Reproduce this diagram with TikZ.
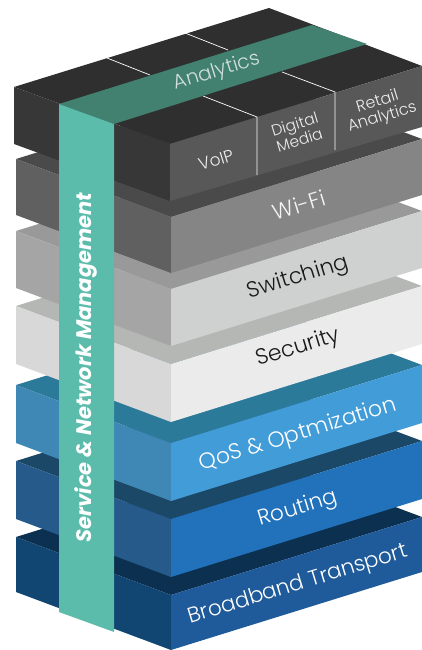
\documentclass[tikz,border=0pt]{standalone}
\usepackage{fontspec}
\setmainfont{Poppins}
\newfontfamily\lightface{Poppins Light}
\definecolor{topT}{HTML}{2E2F2E}\definecolor{topL}{HTML}{363736}\definecolor{topR}{HTML}{575857}
\definecolor{wifiT}{HTML}{4A4A4A}\definecolor{wifiL}{HTML}{5F605F}\definecolor{wifiR}{HTML}{858585}
\definecolor{swT}{HTML}{999999}\definecolor{swL}{HTML}{A5A5A5}\definecolor{swR}{HTML}{CFD1D0}
\definecolor{secT}{HTML}{B5B7B5}\definecolor{secL}{HTML}{D8D8D8}\definecolor{secR}{HTML}{EBEBEB}
\definecolor{qosT}{HTML}{2C7A9A}\definecolor{qosL}{HTML}{3F88B5}\definecolor{qosR}{HTML}{429CD8}
\definecolor{rtT}{HTML}{1C4868}\definecolor{rtL}{HTML}{265A8A}\definecolor{rtR}{HTML}{2272BB}
\definecolor{bbT}{HTML}{0C3050}\definecolor{bbL}{HTML}{124672}\definecolor{bbR}{HTML}{1F5A9A}
\definecolor{bandV}{HTML}{5BBCAB}\definecolor{bandT}{HTML}{42806F}
\tikzset{
  facelabel/.style={rotate=17,inner sep=0pt,align=center,font=\lightface\fontsize{#1}{#1}\selectfont},
  divider/.style={draw=white,line width=0.7pt}
}
% \layerblock{prefix}{front top y}{height}
\newcommand{\layerblock}[3]{%
  \fill[#1T] (171,#2) -- (16,{#2-58}) -- (267,{#2-136}) -- (422,{#2-78}) -- cycle;
  \fill[#1L] (171,#2) -- (16,{#2-58}) -- (16,{#2-58+#3}) -- (171,{#2+#3}) -- cycle;
  \fill[#1R] (171,#2) -- (422,{#2-78}) -- (422,{#2-78+#3}) -- (171,{#2+#3}) -- cycle;
}
\begin{document}
\begin{tikzpicture}[x=1pt,y=-1pt]
\useasboundingbox (0,0) rectangle (422,650);
\layerblock{bb}{595}{55}
\layerblock{rt}{519}{58}
\layerblock{qos}{443}{58}
\layerblock{sec}{364}{58}
\layerblock{sw}{289}{57}
\layerblock{wifi}{217}{56}
% top block
\fill[topT] (170,144) -- (14,87) -- (269,8) -- (422,66) -- cycle;
\fill[topL] (170,144) -- (14,87) -- (14,144) -- (170,201) -- cycle;
\fill[topR] (170,144) -- (422,66) -- (422,127) -- (170,201) -- cycle;
% dividers
\draw[divider] (107,58) -- (150,75);
\draw[divider] (185,33) -- (228,50);
\draw[divider] (203,96) -- (257,117) -- (257,175);
\draw[divider] (282,72) -- (335,92) -- (335,150);
% band
\fill[bandT] (59,104) -- (114,124) -- (367,44) -- (312,25) -- cycle;
\fill[bandV] (59,104) -- (114,124) -- (114,632) -- (59,612) -- cycle;
% labels
\node[facelabel=20,text=white!75!bandT] (analytics) at (217,72) {Analytics};
\node[facelabel=17,text=white!90!topR] (voip) at (216,160) {VoIP};
\node[facelabel=15.5,text=white!90!topR] (digital) at (297,132) {Digital\\Media};
\node[facelabel=16,text=white!90!topR] (retail) at (380,110) {Retail\\Analytics};
\node[facelabel=22,text=white!90!wifiR] (wifi) at (299,205) {Wi-Fi};
\node[facelabel=22,text=black!90] (switching) at (298,278) {Switching};
\node[facelabel=22,text=black!90] (security) at (298,348) {Security};
\node[facelabel=22,text=white] (qos) at (298,435) {QoS \& Optmization};
\node[facelabel=21.5,text=white] (routing) at (298,509) {Routing};
\node[facelabel=21.5,text=white] (broadband) at (298,585) {Broadband Transport};
\node[rotate=90,inner sep=0pt,text=white,font=\fontsize{21}{21}\selectfont\bfseries\itshape] (service) at (86,367.5) {Service \& Network Management};
\end{tikzpicture}
\end{document}
